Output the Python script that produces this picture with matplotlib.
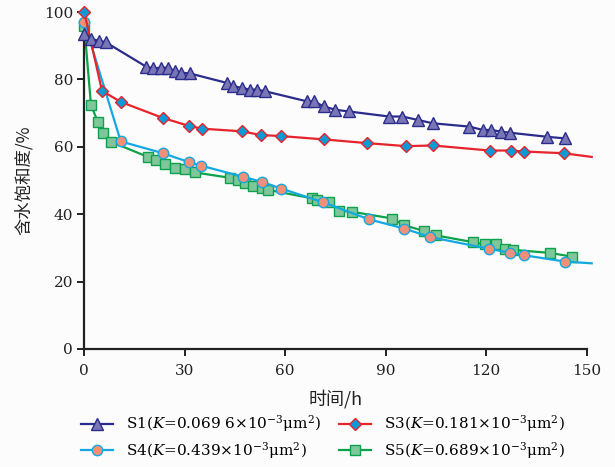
import matplotlib
matplotlib.use("Agg")
import matplotlib.pyplot as plt
from matplotlib.lines import Line2D

plt.rcParams['font.family'] = ['DejaVu Serif', 'Noto Sans CJK SC', 'DejaVu Sans']
plt.rcParams['mathtext.fontset'] = 'dejavuserif'

# Water saturation (%) vs time (h) for four cores
s1_t = [0, 2, 4.5, 6.5, 18.5, 20.5, 23, 25, 27, 29, 31.5, 42.5, 44.5, 47, 49.5, 51.5, 54,
        66.5, 68.5, 71.5, 75, 79, 91, 95, 99.5, 104, 115, 119, 121.5, 124.5, 127, 138, 143.5]
s1_sw = [93.5, 92, 91.5, 91, 83.8, 83.3, 83.5, 83.5, 82.5, 82, 81.8, 79, 78, 77.5, 77, 77, 76.5,
         73.5, 73.5, 72, 71, 70.5, 69, 69, 68, 67, 66, 65, 65, 64.5, 64.2, 63, 62.5]

s3_t = [0, 5.3, 11, 23.4, 31.3, 35.1, 47.1, 52.7, 58.7, 71.6, 84.4, 96.1, 104.1, 121, 127.4, 131.4, 143.1]
s3_sw = [100, 76.6, 73.3, 68.6, 66.2, 65.4, 64.6, 63.5, 63.2, 62.2, 61.1, 60.2, 60.4, 58.9, 58.9, 58.6, 58.1]
s3_trend_end = (151.5, 57.0)

s4_t = [0, 10.9, 23.5, 31.4, 34.9, 47.4, 53, 58.8, 71.4, 84.9, 95.6, 103.3, 120.9, 127.2, 131.3, 143.6]
s4_sw = [97, 61.6, 58.1, 55.4, 54.4, 51.1, 49.6, 47.6, 43.5, 38.5, 35.7, 33.2, 29.7, 28.5, 27.8, 25.9]
s4_trend_end = (151.5, 25.4)

s5_t = [0, 2, 4, 5.5, 8, 19, 21.5, 24, 27, 30, 33, 43.5, 46, 48, 50.5, 53, 55,
        68, 69.5, 73, 76, 80, 92, 95.5, 101.5, 105, 116, 119.5, 123, 125.5, 128, 139, 145.5]
s5_sw = [96, 72.5, 67.5, 64, 61.5, 57, 56, 55, 53.7, 53.4, 52.4, 50.8, 50, 49.2, 48.5, 47.8, 47.2,
         44.7, 44.3, 43.7, 41, 40.7, 38.7, 36.7, 35, 33.7, 31.7, 31, 31.2, 29.8, 29.4, 28.5, 27.4]

labels = [r'S1($K$=0.069 6×10$^{-3}$μm$^{2}$)',
          r'S3($K$=0.181×10$^{-3}$μm$^{2}$)',
          r'S4($K$=0.439×10$^{-3}$μm$^{2}$)',
          r'S5($K$=0.689×10$^{-3}$μm$^{2}$)']

c1_line, c1_fill = '#2b2d8c', '#7a76b6'
c3_line, c3_fill = '#e8232b', '#0c9ad6'
c4_line, c4_fill = '#14a8e1', '#f09079'
c5_line, c5_fill = '#0ca24c', '#7fc79b'

m1 = dict(marker='^', ms=9, mfc=c1_fill, mec=c1_line, mew=1.0)
m3 = dict(marker='D', ms=6.5, mfc=c3_fill, mec=c3_line, mew=1.0)
m4 = dict(marker='o', ms=7.5, mfc=c4_fill, mec=c4_line, mew=1.0)
m5 = dict(marker='s', ms=7.5, mfc=c5_fill, mec=c5_line, mew=1.0)

bg = '#fcfcfc'
fig = plt.figure(figsize=(6.15, 4.67), dpi=100, facecolor=bg)
ax = fig.add_axes([0.137, 0.253, 0.817, 0.721], facecolor=bg)

# S5 and S4 drawn first so S1/S3 sit on top
ax.plot(s5_t, s5_sw, color=c5_line, lw=1.6, zorder=2)
ax.plot(s5_t, s5_sw, ls='none', zorder=3, **m5)

ax.plot(s4_t + [s4_trend_end[0]], s4_sw + [s4_trend_end[1]], color=c4_line, lw=1.6, zorder=4)
ax.plot(s4_t, s4_sw, ls='none', zorder=5, **m4)

ax.plot(s3_t + [s3_trend_end[0]], s3_sw + [s3_trend_end[1]], color=c3_line, lw=1.6, zorder=6)
ax.plot(s3_t, s3_sw, ls='none', zorder=7, **m3)

ax.plot(s1_t, s1_sw, color=c1_line, lw=1.6, zorder=8)
ax.plot(s1_t, s1_sw, ls='none', zorder=9, **m1)

ax.set_xlim(0, 150)
ax.set_ylim(0, 100)
ax.set_xticks([0, 30, 60, 90, 120, 150])
ax.set_yticks([0, 20, 40, 60, 80, 100])
for s in ['top', 'right']:
    ax.spines[s].set_visible(False)
for s in ['left', 'bottom']:
    ax.spines[s].set_linewidth(1.6)
    ax.spines[s].set_color('#222222')
ax.tick_params(direction='out', length=5, width=1.4, labelsize=11, colors='#222222', pad=3)
ax.tick_params(axis='x', pad=6)
for art in ax.lines:
    art.set_clip_on(False)

ax.set_xlabel('时间/h', fontsize=13, labelpad=8,
              family=['Noto Sans CJK SC', 'DejaVu Serif'], color='#222222')
ax.set_ylabel('含水饱和度/%', fontsize=12.5, labelpad=8,
              family=['Noto Sans CJK SC', 'DejaVu Serif'], color='#222222')

handles = [
    Line2D([], [], color=c1_line, lw=1.6, **m1),
    Line2D([], [], color=c4_line, lw=1.6, **m4),
    Line2D([], [], color=c3_line, lw=1.6, **m3),
    Line2D([], [], color=c5_line, lw=1.6, **m5),
]
leg_labels = [labels[0], labels[2], labels[1], labels[3]]
fig.legend(handles, leg_labels, ncol=2, loc='lower center', bbox_to_anchor=(0.525, -0.016),
           frameon=False, fontsize=11, handlelength=2.1, columnspacing=1.2,
           labelspacing=0.35, handletextpad=0.8)

fig.savefig('out.png', dpi=100, facecolor=bg)
